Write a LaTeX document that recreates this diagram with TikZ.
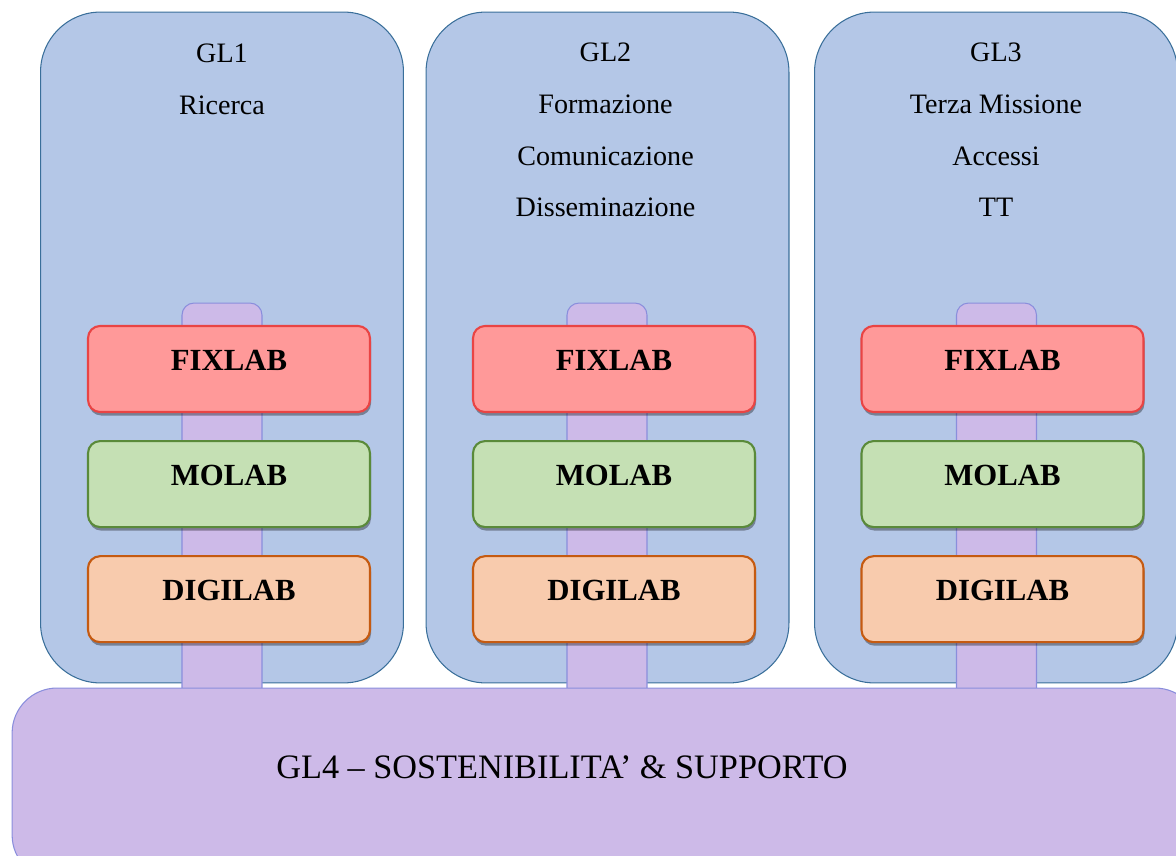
\documentclass[tikz,border=0pt]{standalone}
\usepackage{fontspec}
\setmainfont{Liberation Serif}
\usetikzlibrary{positioning,shadows}
\definecolor{colfill}{HTML}{B4C7E7}
\definecolor{colline}{HTML}{3A6F9A}
\definecolor{lilafill}{HTML}{CDBAE8}
\definecolor{lilaline}{HTML}{8A8EDC}
\definecolor{fixfill}{HTML}{FF9999}
\definecolor{fixline}{HTML}{E94444}
\definecolor{mofill}{HTML}{C5E0B4}
\definecolor{moline}{HTML}{5A8A3A}
\definecolor{digifill}{HTML}{F8CBAD}
\definecolor{digiline}{HTML}{C55A11}
\def\LabGap{0.54cm}

\tikzset{
  col/.style={draw=colline, fill=colfill, line width=0.6pt, rounded corners=1.2cm,
    minimum width=7.26cm, minimum height=13.42cm, inner sep=0pt},
  coltext/.style={align=center, inner sep=0pt, font=\fontsize{16}{29.5}\selectfont},
  stem/.style={draw=lilaline, fill=lilafill, line width=0.6pt, rounded corners=0.24cm,
    minimum width=1.6cm, minimum height=8.74cm, inner sep=0pt},
  lab/.style={rounded corners=0.24cm, line width=1.2pt, minimum width=5.64cm,
    minimum height=1.72cm, inner sep=0pt, text depth=0.34cm,
    font=\fontsize{17.5}{20}\selectfont\bfseries,
    drop shadow={shadow xshift=0.6pt, shadow yshift=-2pt, opacity=0.35, fill=black}},
  fixlab/.style={lab, draw=fixline, fill=fixfill},
  molab/.style={lab, draw=moline, fill=mofill},
  digilab/.style={lab, draw=digiline, fill=digifill},
  gl4bar/.style={draw=lilaline, fill=lilafill, line width=0.6pt, rounded corners=0.9cm,
    minimum width=23.76cm, minimum height=3.84cm, inner sep=0pt},
}

\begin{document}
\begin{tikzpicture}[x=0.02cm,y=-0.02cm]
  \useasboundingbox (0,0) rectangle (1176,855);
  \clip (0,0) rectangle (1176,855);
  % columns
  \node[col] (c1) at (222,347.5) {};
  \node[col] (c2) at (607.5,347.5) {};
  \node[col] (c3) at (996,347.5) {};
  \node[coltext, below=0.64cm of c1.north] (t1) {GL1\\Ricerca};
  \node[coltext, below=0.62cm of c2.north, xshift=-0.04cm] (t2) {GL2\\Formazione\\Comunicazione\\Disseminazione};
  \node[coltext, below=0.62cm of c3.north] (t3) {GL3\\Terza Missione\\Accessi\\TT};
  % stems and lab boxes
  \foreach \n/\sx/\lx in {1/222/229, 2/607/614, 3/996.5/1002.5}{
    \node[stem] (s\n) at (\sx,521.5) {};
    \node[fixlab] (f\n) at (\lx,369) {FIXLAB};
    \node[molab, below=\LabGap of f\n] (m\n) {MOLAB};
    \node[digilab, below=\LabGap of m\n] (d\n) {DIGILAB};
  }
  % bottom bar
  \node[gl4bar] (gl4) at (606,784) {};
  \node[font=\fontsize{19.5}{22}\selectfont, inner sep=0pt] (gl4t) at (562,767)
    {GL4 -- SOSTENIBILITA’ \& SUPPORTO};
\end{tikzpicture}
\end{document}
